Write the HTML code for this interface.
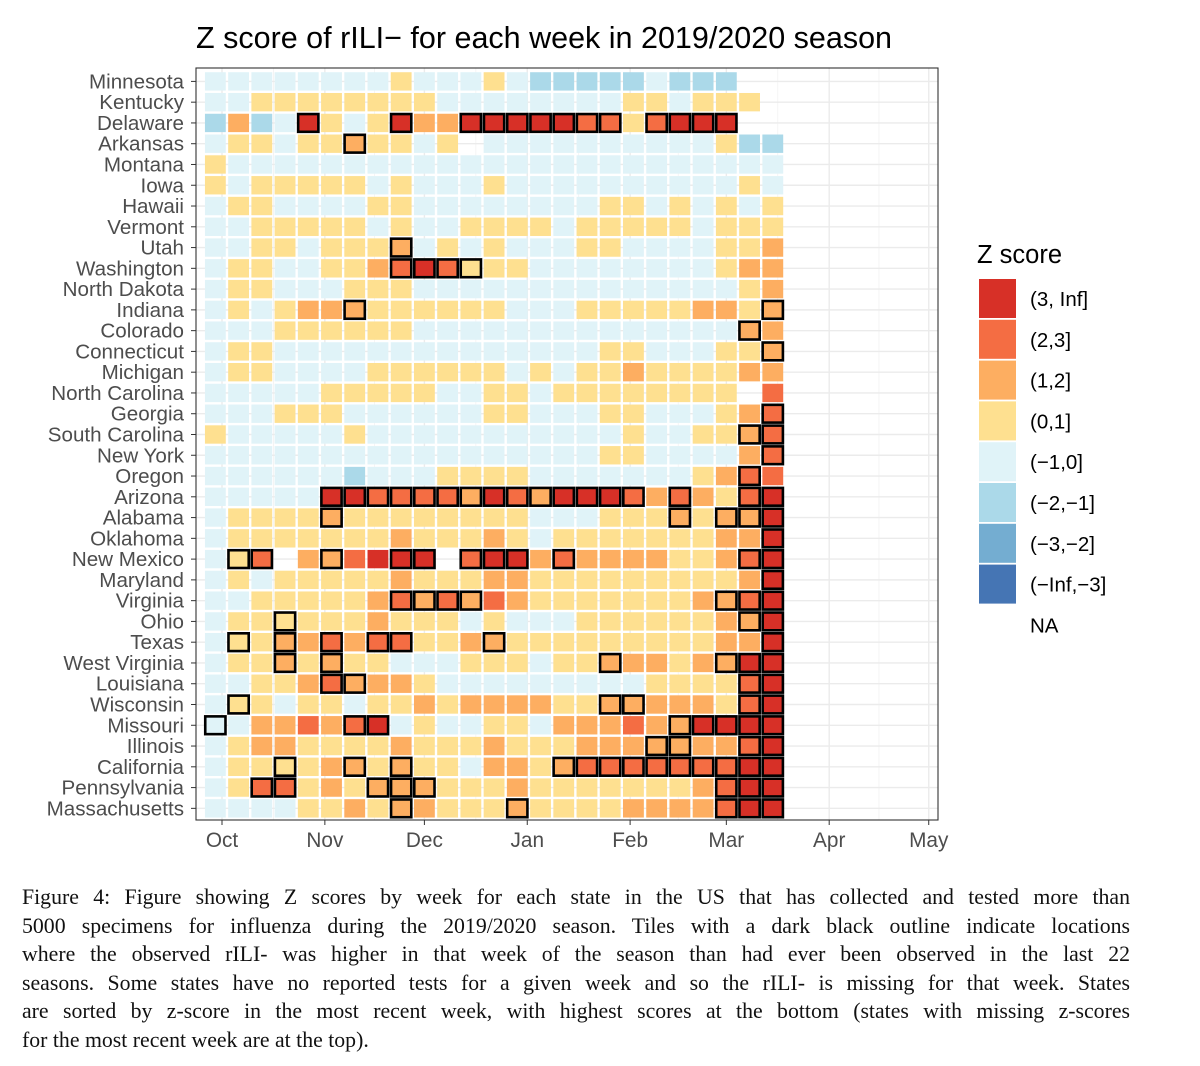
<!DOCTYPE html>
<html><head><meta charset="utf-8"><style>
body{margin:0;background:#fff;width:1200px;height:1066px;overflow:hidden;}
#cap{position:absolute;left:22px;top:883px;width:1108px;font-family:"Liberation Serif",serif;font-size:21.8px;line-height:28.5px;color:#111;}
#cap div{text-align:justify;text-align-last:justify;white-space:nowrap;}
#cap div.last{text-align-last:left;}
</style></head><body>
<svg id="chart" width="1200" height="880" style="position:absolute;left:0;top:0" xmlns="http://www.w3.org/2000/svg" font-family="Liberation Sans, sans-serif">
<text x="544" y="48" font-size="30.5" text-anchor="middle" fill="#000">Z score of rILI− for each week in 2019/2020 season</text>
<rect x="196" y="68" width="742" height="752" fill="#fff"/>
<g id="grid"></g><g id="tiles"></g><g id="outlines"></g>
<rect x="196" y="68" width="742" height="752" fill="none" stroke="#333" stroke-width="1.1"/>
<g id="yaxis"></g><g id="xaxis"></g>
<g id="legend"></g>
</svg>
<div id="cap">
<div>Figure 4: Figure showing Z scores by week for each state in the US that has collected and tested more than</div>
<div>5000 specimens for influenza during the 2019/2020 season. Tiles with a dark black outline indicate locations</div>
<div>where the observed rILI- was higher in that week of the season than had ever been observed in the last 22</div>
<div>seasons. Some states have no reported tests for a given week and so the rILI- is missing for that week. States</div>
<div>are sorted by z-score in the most recent week, with highest scores at the bottom (states with missing z-scores</div>
<div class="last">for the most recent week are at the top).</div>
</div>
<script>
const states=["Minnesota","Kentucky","Delaware","Arkansas","Montana","Iowa","Hawaii","Vermont","Utah","Washington","North Dakota","Indiana","Colorado","Connecticut","Michigan","North Carolina","Georgia","South Carolina","New York","Oregon","Arizona","Alabama","Oklahoma","New Mexico","Maryland","Virginia","Ohio","Texas","West Virginia","Louisiana","Wisconsin","Missouri","Illinois","California","Pennsylvania","Massachusetts"];
const weekCats=[
"3333333343334322222322200",
"3344444444333333334434440",
"2523743475577777664677700",
"3443445443403333333333422",
"4333333333333333333333333",
"4344444343334333333333343",
"3443333443333333344343434",
"3344444343344443444443444",
"3344344453434333443333445",
"3443344567644433333333455",
"3443334443333333333333345",
"3434555444444333444445545",
"3334444443333333333333355",
"3443333333333333344333445",
"3443333444444343445444455",
"3333344444334434444444406",
"3334443333334433344333456",
"4333334333333333334334456",
"3333333333333333344333356",
"3333332333444433333334566",
"3333377666657657776565467",
"3444454444444433344454557",
"3444444454445434444444557",
"3460556777067756555544567",
"3434444454445544444444457",
"3344444565656544444445567",
"3444444544434333444444557",
"3445565664455444444444557",
"3445454433344434455545577",
"3344565554333333333444467",
"3443443445455554455555467",
"3355656734334435556557777",
"3455444454445444555555567",
"3444455454435545666666677",
"3466454555444544444445677",
"3333445455444544445555677"];
const outlined=[[],[],[4,8,11,12,13,14,15,16,17,19,20,21,22],[6],[],[],[],[],[8],[8,9,10,11],[],[6,24],[23],[24],[],[],[24],[23,24],[24],[23],
[5,6,7,8,9,10,11,12,13,14,15,16,17,18,20,23,24],[5,20,22,23,24],[24],[1,2,5,8,9,11,12,13,15,23,24],[24],[8,9,10,11,22,23,24],[3,23,24],[1,3,5,7,8,12,24],[3,5,17,22,23,24],[5,6,23,24],[1,17,18,23,24],[0,6,7,20,21,22,23,24],[19,20,23,24],[3,6,8,15,16,17,18,19,20,21,22,23,24],[2,3,7,8,9,22,23,24],[8,13,22,23,24]];
const monthLabels=["Oct","Nov","Dec","Jan","Feb","Mar","Apr","May"];
const monthDays=[0,31,61,92,123,152,183,213];
function codeColor(c){return {0:"#ffffff",1:"#74add1",2:"#abd9e9",3:"#e0f3f8",4:"#fee090",5:"#fdae61",6:"#f46d43",7:"#d73027"}[c];}
const NS="http://www.w3.org/2000/svg";
function mk(t,a,p){const e=document.createElementNS(NS,t);for(const k in a)e.setAttribute(k,a[k]);p.appendChild(e);return e;}
const xDay=d=>222+d*3.318;
const xWeek=k=>xDay(-2+7*k);
const yRow=i=>81.4+i*20.77;
const grid=document.getElementById('grid');
for(let i=0;i<monthDays.length;i++){
 const l=mk('line',{x1:xDay(monthDays[i]),x2:xDay(monthDays[i]),y1:68,y2:820,stroke:"#ebebeb","stroke-width":1.4},grid);
 
 
 if(i<monthDays.length-1){const m=(monthDays[i]+monthDays[i+1])/2;
 const l2=mk('line',{x1:xDay(m),x2:xDay(m),y1:68,y2:820,stroke:"#f2f2f2","stroke-width":0.8},grid);
 
 }
}
for(let i=0;i<states.length;i++){
 const l=mk('line',{x1:196,x2:938,y1:yRow(i),y2:yRow(i),stroke:"#ebebeb","stroke-width":1.4},grid);
 
 
}
const tiles=document.getElementById('tiles'),outs=document.getElementById('outlines');
const tw=23.24,th=20.77;
weekCats.forEach((row,i)=>{
 for(let k=0;k<row.length;k++){
  const c=+row[k];if(c===0)continue;
  const r=mk('rect',{x:xWeek(k)-tw/2+1.2,y:yRow(i)-th/2+1.2,width:tw-2.4,height:th-2.4,fill:codeColor(c)},tiles);
  
  
 }
});
outlined.forEach((cols,i)=>cols.forEach(k=>{
 const r=mk('rect',{x:xWeek(k)-tw/2+1.5,y:yRow(i)-th/2+1.5,width:tw-3,height:th-3,fill:"none",stroke:"#000","stroke-width":2.6},outs);
 
 
}));
const ya=document.getElementById('yaxis');
states.forEach((s,i)=>{
 const t=mk('text',{x:184,y:yRow(i)+7,"font-size":20.6,"text-anchor":"end",fill:"#4d4d4d"},ya);t.textContent=s;
 
 
 mk('line',{x1:191,x2:196,y1:yRow(i),y2:yRow(i),stroke:"#333","stroke-width":1},ya);
});
const xa=document.getElementById('xaxis');
monthLabels.forEach((m,i)=>{
 const x=xDay(monthDays[i]);
 mk('line',{x1:x,x2:x,y1:820,y2:825,stroke:"#333","stroke-width":1},xa);
 const t=mk('text',{x:x,y:847,"font-size":20.8,"text-anchor":"middle",fill:"#4d4d4d"},xa);t.textContent=m;
 
 
});
const lg=document.getElementById('legend');
const lt=mk('text',{x:977,y:263,"font-size":25.5,fill:"#000"},lg);lt.textContent="Z score";


const legCols=["#d73027","#f46d43","#fdae61","#fee090","#e0f3f8","#abd9e9","#74add1","#4575b4","#ffffff"];
const legLabels=["(3, Inf]","(2,3]","(1,2]","(0,1]","(−1,0]","(−2,−1]","(−3,−2]","(−Inf,−3]","NA"];
legLabels.forEach((l,i)=>{
 const y=279+i*40.8;
 const r=mk('rect',{x:979,y:y,width:37,height:39,fill:legCols[i]},lg);
 
 
 const t=mk('text',{x:1030,y:y+27,"font-size":20.5,fill:"#000"},lg);t.textContent=l;
 
 
});
</script>
</body></html>
